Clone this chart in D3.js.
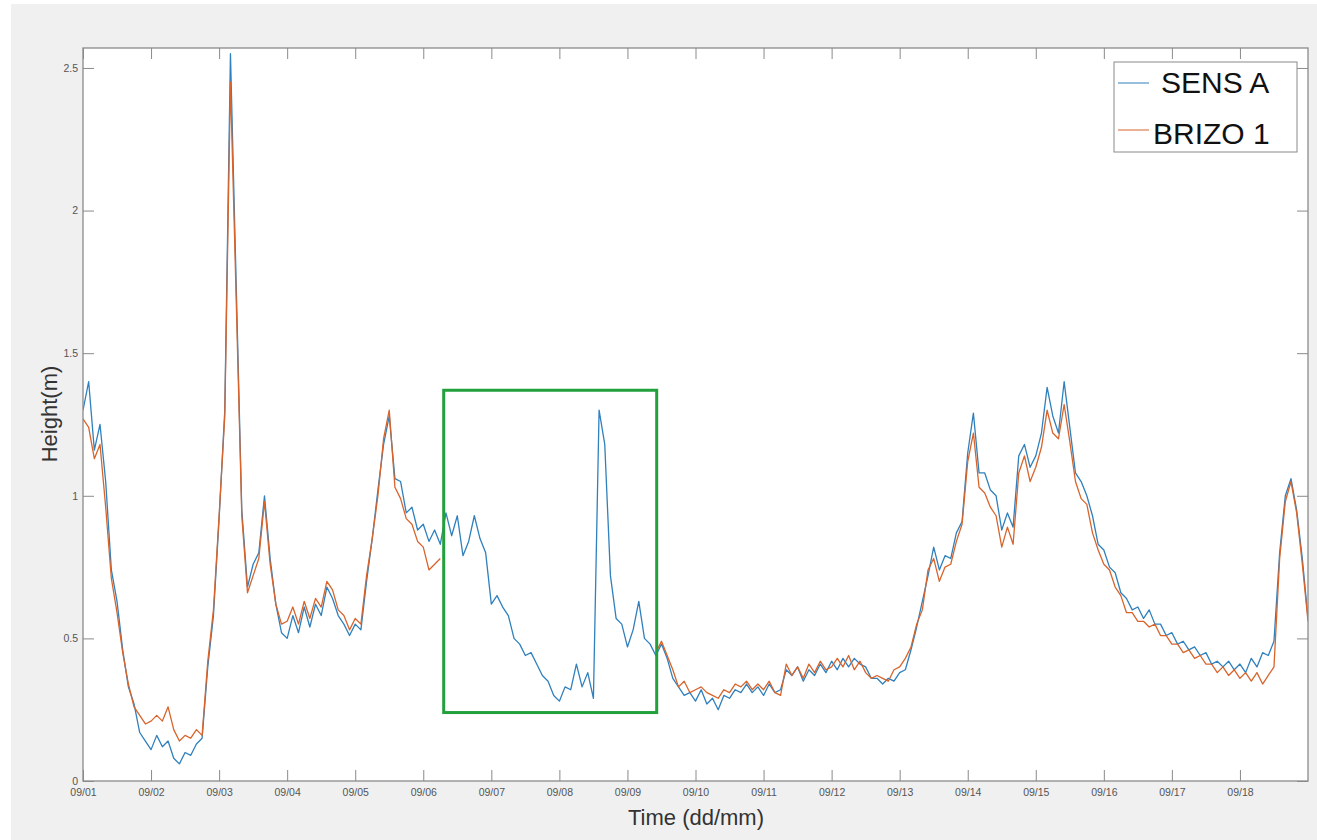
<!DOCTYPE html>
<html>
<head>
<meta charset="utf-8">
<script src="https://cdn.jsdelivr.net/npm/d3@7"></script>
<style>
  body { margin: 0; background: #ffffff; }
  text { font-family: Arial, "Liberation Sans", sans-serif; }
</style>
</head>
<body>
<div id="chart"></div>
<script>

// day tick labels (dd/mm as shown on the chart)
var dayLabels = ["09/01", "09/02", "09/03", "09/04", "09/05", "09/06", "09/07", "09/08", "09/09",
                 "09/10", "09/11", "09/12", "09/13", "09/14", "09/15", "09/16", "09/17", "09/18"];

// readings every 2 hours, starting 09/01 00:00 (one row = one day)
var sampleHours = 2;

var sensA = [
  1.30, 1.40, 1.16, 1.25, 1.05, 0.74, 0.63, 0.46, 0.33, 0.27, 0.17, 0.14,
  0.11, 0.16, 0.12, 0.14, 0.08, 0.06, 0.10, 0.09, 0.13, 0.15, 0.40, 0.58,
  0.92, 1.30, 2.55, 1.75, 0.95, 0.68, 0.76, 0.80, 1.00, 0.78, 0.62, 0.52,
  0.50, 0.58, 0.52, 0.61, 0.54, 0.62, 0.58, 0.68, 0.64, 0.58, 0.55, 0.51,
  0.55, 0.53, 0.70, 0.85, 1.02, 1.18, 1.28, 1.06, 1.05, 0.94, 0.96, 0.88,
  0.90, 0.84, 0.88, 0.83, 0.94, 0.86, 0.93, 0.79, 0.84, 0.93, 0.85, 0.80,
  0.62, 0.65, 0.61, 0.58, 0.50, 0.48, 0.44, 0.45, 0.41, 0.37, 0.35, 0.30,
  0.28, 0.33, 0.32, 0.41, 0.33, 0.38, 0.29, 1.30, 1.18, 0.72, 0.57, 0.55,
  0.47, 0.53, 0.63, 0.50, 0.48, 0.44, 0.48, 0.43, 0.36, 0.33, 0.30, 0.31,
  0.28, 0.32, 0.27, 0.29, 0.25, 0.30, 0.29, 0.32, 0.31, 0.34, 0.31, 0.33,
  0.30, 0.34, 0.31, 0.32, 0.39, 0.37, 0.40, 0.35, 0.39, 0.37, 0.41, 0.38,
  0.42, 0.39, 0.43, 0.40, 0.43, 0.41, 0.40, 0.36, 0.36, 0.34, 0.36, 0.35,
  0.38, 0.39, 0.46, 0.54, 0.63, 0.72, 0.82, 0.74, 0.79, 0.78, 0.87, 0.91,
  1.15, 1.29, 1.08, 1.08, 1.02, 1.00, 0.88, 0.94, 0.89, 1.14, 1.18, 1.10,
  1.14, 1.22, 1.38, 1.28, 1.22, 1.40, 1.24, 1.08, 1.05, 1.00, 0.93, 0.83,
  0.81, 0.75, 0.73, 0.66, 0.64, 0.60, 0.61, 0.57, 0.60, 0.55, 0.55, 0.51,
  0.52, 0.48, 0.49, 0.46, 0.47, 0.44, 0.45, 0.41, 0.42, 0.40, 0.42, 0.39,
  0.41, 0.38, 0.43, 0.40, 0.45, 0.44, 0.49, 0.80, 1.00, 1.06, 0.95, 0.78,
  0.57
];

// BRIZO 1 has no data from 09/06 ~07h to 09/09 ~10h
var brizo1 = [
  1.27, 1.24, 1.13, 1.18, 0.96, 0.71, 0.59, 0.45, 0.34, 0.26, 0.23, 0.20,
  0.21, 0.23, 0.21, 0.26, 0.18, 0.14, 0.16, 0.15, 0.18, 0.16, 0.42, 0.60,
  0.93, 1.28, 2.45, 1.70, 0.93, 0.66, 0.72, 0.78, 0.98, 0.76, 0.62, 0.55,
  0.56, 0.61, 0.55, 0.63, 0.57, 0.64, 0.61, 0.70, 0.67, 0.60, 0.58, 0.53,
  0.57, 0.55, 0.72, 0.85, 1.00, 1.20, 1.30, 1.03, 0.99, 0.92, 0.90, 0.84,
  0.82, 0.74, 0.76, 0.78, null, null, null, null, null, null, null, null,
  null, null, null, null, null, null, null, null, null, null, null, null,
  null, null, null, null, null, null, null, null, null, null, null, null,
  null, null, null, null, null, 0.45, 0.49, 0.44, 0.39, 0.33, 0.35, 0.31,
  0.32, 0.33, 0.31, 0.30, 0.29, 0.32, 0.31, 0.34, 0.33, 0.35, 0.32, 0.34,
  0.32, 0.35, 0.31, 0.30, 0.41, 0.37, 0.40, 0.36, 0.41, 0.38, 0.42, 0.39,
  0.40, 0.43, 0.40, 0.44, 0.39, 0.42, 0.38, 0.36, 0.37, 0.36, 0.35, 0.39,
  0.40, 0.43, 0.47, 0.55, 0.60, 0.74, 0.78, 0.70, 0.75, 0.76, 0.84, 0.90,
  1.12, 1.22, 1.03, 1.01, 0.96, 0.93, 0.82, 0.89, 0.83, 1.08, 1.14, 1.05,
  1.10, 1.17, 1.30, 1.22, 1.20, 1.32, 1.19, 1.05, 0.99, 0.97, 0.87, 0.81,
  0.76, 0.74, 0.68, 0.65, 0.59, 0.59, 0.56, 0.56, 0.54, 0.55, 0.51, 0.51,
  0.48, 0.48, 0.45, 0.46, 0.43, 0.44, 0.41, 0.41, 0.38, 0.40, 0.37, 0.39,
  0.36, 0.38, 0.35, 0.38, 0.34, 0.37, 0.40, 0.78, 0.98, 1.05, 0.94, 0.76,
  0.56
];

var yTicks = [0, 0.5, 1, 1.5, 2, 2.5];
var yTickLabels = ["0", "0.5", "1", "1.5", "2", "2.5"];

// highlighted window (day offset from 09/01, height in m)
var boxDays = [5.30, 8.43];
var boxHeights = [0.24, 1.37];

function makeChart() {

  var svgWidth = 1317;
  var svgHeight = 840;
  var margin = {top: 48, right: 9, bottom: 59, left: 83};
  var width = svgWidth - margin.left - margin.right;
  var height = svgHeight - margin.top - margin.bottom;

  var svg = d3.select("#chart")
    .append("svg")
    .attr("width", svgWidth)
    .attr("height", svgHeight);

  // figure background
  svg.append("rect")
    .attr("x", 11).attr("y", 4)
    .attr("width", svgWidth - 11).attr("height", svgHeight - 4)
    .attr("fill", "#f0f0f0");

  var chartGroup = svg.append("g")
    .attr("transform", `translate(${margin.left}, ${margin.top})`);

  chartGroup.append("rect")
    .attr("width", width).attr("height", height)
    .attr("fill", "#ffffff");

  var t0 = new Date(2020, 8, 1);
  var hour = 3600 * 1000;
  var toDate = function(days) { return new Date(t0.getTime() + days * 24 * hour); };

  var xScale = d3.scaleTime()
    .domain([t0, toDate(18)])
    .range([0, width]);

  var yScale = d3.scaleLinear()
    .domain([0, 2.57])
    .range([height, 0]);

  var dayDates = dayLabels.map((d, i) => toDate(i));

  // axes, ticks pointing inward like matlab
  var bottomAxis = d3.axisBottom(xScale)
    .tickValues(dayDates)
    .tickFormat((d, i) => dayLabels[i])
    .tickSizeInner(-11).tickSizeOuter(0).tickPadding(8);
  var topAxis = d3.axisTop(xScale)
    .tickValues(dayDates).tickFormat("")
    .tickSizeInner(-11).tickSizeOuter(0);
  var leftAxis = d3.axisLeft(yScale)
    .tickValues(yTicks)
    .tickFormat((d, i) => yTickLabels[i])
    .tickSizeInner(-11).tickSizeOuter(0).tickPadding(5);
  var rightAxis = d3.axisRight(yScale)
    .tickValues(yTicks).tickFormat("")
    .tickSizeInner(-11).tickSizeOuter(0);

  var axes = [
    chartGroup.append("g").attr("transform", `translate(0, ${height})`).call(bottomAxis),
    chartGroup.append("g").call(topAxis),
    chartGroup.append("g").call(leftAxis),
    chartGroup.append("g").attr("transform", `translate(${width}, 0)`).call(rightAxis)
  ];
  axes.forEach(function(g) {
    g.select(".domain").remove();
    g.selectAll("line").attr("stroke", "#8a8a8a");
    g.selectAll("text").attr("fill", "#555").style("font-size", "10.5px");
  });

  // clip for the lines
  chartGroup.append("clipPath").attr("id", "plotClip")
    .append("rect").attr("width", width).attr("height", height);

  var line = d3.line()
    .defined(d => d.v != null)
    .x(d => xScale(d.t))
    .y(d => yScale(d.v));

  var series = [
    {name: "SENS A", values: sensA, color: "#2f80bd"},
    {name: "BRIZO 1", values: brizo1, color: "#d8642c"}
  ];

  series.forEach(function(s) {
    var pts = s.values.map((v, i) => ({t: new Date(t0.getTime() + i * sampleHours * hour), v: v}));
    chartGroup.append("path")
      .datum(pts)
      .attr("clip-path", "url(#plotClip)")
      .attr("fill", "none")
      .attr("stroke", s.color)
      .attr("stroke-width", 1.3)
      .attr("stroke-linejoin", "round")
      .attr("d", line);
  });

  // box frame
  chartGroup.append("rect")
    .attr("width", width).attr("height", height)
    .attr("fill", "none")
    .attr("stroke", "#8a8a8a")
    .attr("stroke-width", 1.3);

  // green highlight box
  chartGroup.append("rect")
    .attr("x", xScale(toDate(boxDays[0])))
    .attr("y", yScale(boxHeights[1]))
    .attr("width", xScale(toDate(boxDays[1])) - xScale(toDate(boxDays[0])))
    .attr("height", yScale(boxHeights[0]) - yScale(boxHeights[1]))
    .attr("fill", "none")
    .attr("stroke", "#22a03c")
    .attr("stroke-width", 3);

  // legend
  var legend = svg.append("g");
  legend.append("rect")
    .attr("x", 1114).attr("y", 62)
    .attr("width", 183).attr("height", 90)
    .attr("fill", "#ffffff")
    .attr("stroke", "#8a8a8a");
  var rows = [{y: 83, tx: 1161, ty: 93}, {y: 130, tx: 1153, ty: 144}];
  series.forEach(function(s, i) {
    legend.append("line")
      .attr("x1", 1118).attr("x2", 1149)
      .attr("y1", rows[i].y).attr("y2", rows[i].y)
      .attr("stroke", s.color).attr("stroke-width", 1);
    legend.append("text")
      .attr("x", rows[i].tx).attr("y", rows[i].ty)
      .style("font-size", "30px")
      .attr("fill", "#111")
      .text(s.name);
  });

  // axis labels
  svg.append("text")
    .attr("transform", "translate(57, 414) rotate(-90)")
    .attr("text-anchor", "middle")
    .style("font-size", "22px")
    .attr("fill", "#333")
    .text("Height(m)");

  svg.append("text")
    .attr("x", 696).attr("y", 825)
    .attr("text-anchor", "middle")
    .style("font-size", "22px")
    .attr("fill", "#333")
    .text("Time (dd/mm)");
}

makeChart();
</script>
</body>
</html>
